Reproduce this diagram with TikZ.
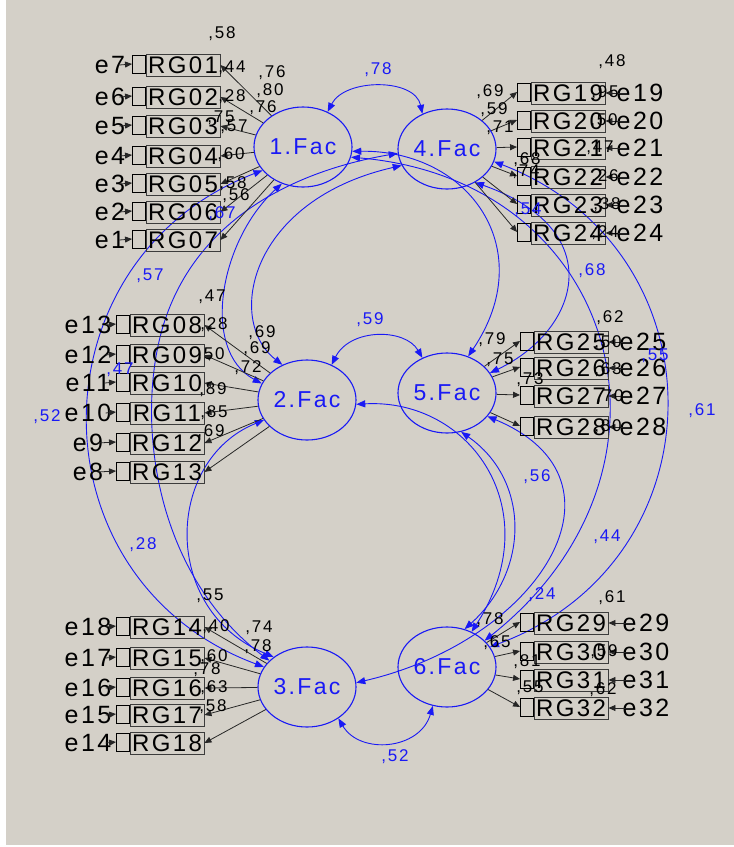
\documentclass[tikz,border=0pt]{standalone}
\usepackage{fontspec}
\setmainfont{Liberation Sans}
\newfontfamily\amos[LetterSpace=10]{Liberation Sans}
\usetikzlibrary{arrows.meta,shapes.geometric}
\definecolor{bgg}{RGB}{212,208,200}
\definecolor{amb}{RGB}{25,25,245}
\definecolor{boxc}{RGB}{60,60,60}
\tikzset{
 fac/.style={ellipse, draw=amb, line width=1.1pt, minimum width=98pt, minimum height=80pt, inner sep=0pt, text=amb, font=\amos\fontsize{23}{23}\selectfont},
 ind/.style={draw=boxc, line width=0.9pt, minimum width=74pt, minimum height=22pt, inner sep=0pt, font=\amos\fontsize{24}{24}\selectfont},
 sqr/.style={draw=black, line width=0.9pt, minimum width=13pt, minimum height=18pt, inner sep=0pt},
 err/.style={inner sep=0pt, font=\amos\fontsize{25}{25}\selectfont},
 num/.style={inner sep=0pt, font=\amos\fontsize{17}{17}\selectfont},
 bnum/.style={num, text=amb},
 cov/.style={draw=amb, line width=0.9pt, {Triangle[length=9pt,width=7pt]}-{Triangle[length=9pt,width=7pt]}},
 ld/.style={draw=black!85, line width=0.8pt, -{Triangle[length=7pt,width=6pt]}},
}
\begin{document}
\begin{tikzpicture}[x=1pt,y=-1pt]
\useasboundingbox (0,0) rectangle (734,847);
\fill[white] (0,0) rectangle (734,847);
\fill[bgg] (6,0) rectangle (734,845);

% factors
\node[fac] (f1) at (303,147) {1.Fac};
\node[fac] (f4) at (447,149) {4.Fac};
\node[fac] (f2) at (307,400) {2.Fac};
\node[fac] (f5) at (447,393) {5.Fac};
\node[fac] (f3) at (307,687) {3.Fac};
\node[fac] (f6) at (447,667) {6.Fac};

% covariances
\draw[cov] (f1.55) .. controls (345,78) and (415,78) .. (f4.125);
\draw[cov] (f2.55) .. controls (350,328) and (405,328) .. (f5.125);
\draw[cov] (f3.-45) .. controls (360,755) and (420,750) .. (f6.-110);
\draw[cov] (f1.210) .. controls (30,260) and (30,580) .. (f3.155);
\draw[cov] (f4.185) .. controls (300,170) and (200,215) .. (165,320) .. controls (135,410) and (150,570) .. (f3.145);
\draw[cov] (f1.240) .. controls (220,240) and (200,350) .. (f2.160);
\draw[cov] (f4.200) .. controls (250,200) and (225,320) .. (f2.125);
\draw[cov] (f2.205) .. controls (165,460) and (160,610) .. (f3.138);
\draw[cov] (f1.-5) .. controls (470,150) and (540,250) .. (f5.60);
\draw[cov] (f4.-50) .. controls (610,230) and (580,330) .. (f5.25);
\draw[cov] (f4.-15) .. controls (724,250) and (724,560) .. (f6.25);
\draw[cov] (f1.-12) .. controls (620,180) and (700,470) .. (f6.35);
\draw[cov] (f5.-30) .. controls (640,480) and (540,640) .. (f3.5);
\draw[cov] (f5.-70) .. controls (530,480) and (530,570) .. (f6.65);
\draw[cov] (f2.-5) .. controls (470,398) and (550,510) .. (f6.55);

% group 1
\foreach \i/\y/\t/\e in {1/65/RG01/e7,2/97/RG02/e6,3/126/RG03/e5,4/156/RG04/e4,5/184/RG05/e3,6/212/RG06/e2,7/240/RG07/e1}{
  \node[sqr] (s\i) at (139,\y-1) {};
  \node[ind] (b\i) at (183,\y) {\t};
  \node[err] (e\i) at (110,\y) {\e};
  \draw[ld] ([xshift=-6pt]e\i.east) -- (s\i.west);
  \draw[ld] (f1) -- (b\i.east);
}
% group 2
\foreach \i/\y/\t/\e in {8/325/RG08/e13,9/355/RG09/e12,10/383/RG10/e11,11/413/RG11/e10,12/443/RG12/e9,13/472/RG13/e8}{
  \node[sqr] (s\i) at (123,\y-1) {};
  \node[ind] (b\i) at (167,\y) {\t};
  \node[err] (e\i) at (88,\y) {\e};
  \draw[ld] ([xshift=-6pt]e\i.east) -- (s\i.west);
  \draw[ld] (f2) -- (b\i.east);
}
% group 3
\foreach \i/\y/\t/\e in {14/627/RG14/e18,15/658/RG15/e17,16/688/RG16/e16,17/715/RG17/e15,18/743/RG18/e14}{
  \node[sqr] (s\i) at (123,\y-1) {};
  \node[ind] (b\i) at (167,\y) {\t};
  \node[err] (e\i) at (88,\y) {\e};
  \draw[ld] ([xshift=-6pt]e\i.east) -- (s\i.west);
  \draw[ld] (f3) -- (b\i.east);
}
% group 4
\foreach \i/\y/\e in {19/93/e19,20/121/e20,21/148/e21,22/177/e22,23/205/e23,24/233/e24}{
  \node[sqr] (s\i) at (524,\y-1) {};
  \node[ind] (b\i) at (568,\y) {RG\i};
  \node[err] (e\i) at (640,\y) {\e};
  \draw[ld] ([xshift=10pt]e\i.west) -- (b\i.east);
  \draw[ld] (f4) -- (s\i.west);
}
% group 5
\foreach \i/\y/\e in {25/342/e25,26/368/e26,27/396/e27,28/427/e28}{
  \node[sqr] (s\i) at (527,\y-1) {};
  \node[ind] (b\i) at (571,\y) {RG\i};
  \node[err] (e\i) at (643,\y) {\e};
  \draw[ld] ([xshift=10pt]e\i.west) -- (b\i.east);
  \draw[ld] (f5) -- (s\i.west);
}
% group 6
\foreach \i/\y/\e in {29/623/e29,30/652/e30,31/680/e31,32/708/e32}{
  \node[sqr] (s\i) at (527,\y-1) {};
  \node[ind] (b\i) at (571,\y) {RG\i};
  \node[err] (e\i) at (646,\y) {\e};
  \draw[ld] ([xshift=10pt]e\i.west) -- (b\i.east);
  \draw[ld] (f6) -- (s\i.west);
}

% black estimates
\foreach \t/\x/\y [count=\k] in {58/222/34,44/232/68,76/272/73,80/270/91,76/263/108,28/232/97,57/234/127,75/221/118,60/231/155,58/233/184,56/236/196,
 47/212/297,69/262/333,69/257/349,72/248/368,28/214/325,50/211/355,89/213/390,85/214/413,69/211/432,
 55/210/596,74/259/628,78/258/647,40/216/627,60/214/657,78/207/670,63/214/688,58/213/707,
 48/612/62,69/490/92,59/494/110,71/500/128,95/605/93,50/604/121,47/600/148,68/527/160,74/526/172,26/605/177,38/607/205,24/605/233,
 62/610/318,79/492/340,75/500/360,73/530/380,50/608/343,63/608/370,70/610/397,80/608/427,
 61/612/598,78/490/620,65/497/643,81/527/662,55/530/688,59/604/652,62/603/690}
  \node[num] (n\k) at (\x,\y) {,\t};

% blue covariance estimates
\foreach \t/\x/\y [count=\k] in {78/378/70,59/370/320,52/395/757,57/150/276,67/222/214,47/120/370,52/47/417,28/143/545,68/592/271,55/655/356,61/702/411,56/537/477,44/607/537,24/542/595,54/528/210}
  \node[bnum] (c\k) at (\x,\y) {,\t};
\end{tikzpicture}
\end{document}
